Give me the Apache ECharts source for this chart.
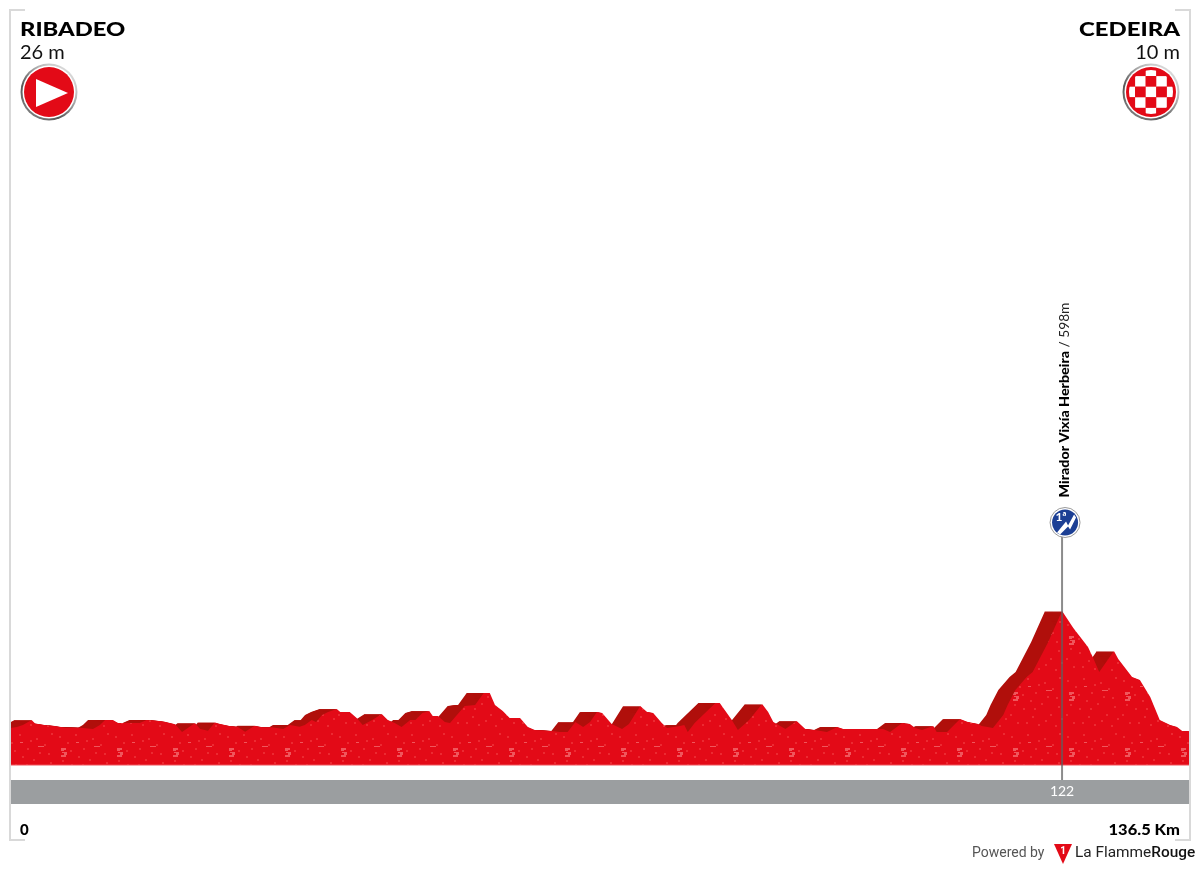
<!DOCTYPE html>
<html><head><meta charset="utf-8">
<style>html,body{margin:0;padding:0;background:#fff}#c{width:1200px;height:870px}</style>
<script src="https://cdn.jsdelivr.net/npm/echarts@6/dist/echarts.min.js"></script>
</head><body><div id="c"></div>
<script>
const profileKm = [0,0.8,1.5,2.5,2.9,4.0,5.2,6.4,8.1,9.6,10.4,11.0,11.9,12.5,13.5,15.0,15.8,17.0,17.9,19.1,19.9,21.4,22.0,22.9,23.7,24.3,25.4,26.3,27.2,28.3,29.2,30.3,31.6,32.4,33.5,34.1,34.9,35.4,36.1,36.8,37.8,38.2,39.3,40.1,40.8,41.9,43.0,43.7,44.5,45.3,46.3,46.9,47.7,48.5,48.9,49.5,50.3,50.9,51.5,51.9,52.6,53.8,54.3,54.8,55.5,56.1,57.0,57.8,59.0,59.9,60.7,62.7,63.6,64.5,65.4,66.3,67.1,67.9,68.5,69.6,70.8,71.6,72.9,73.7,74.4,75.4,76.0,77.5,78.0,78.4,79.2,81.6,82.1,83.5,84.2,85.5,87.0,87.7,88.3,89.1,89.7,91.0,92.0,93.1,94.5,95.7,96.4,97.5,99.8,101.0,101.8,103.2,104.1,104.7,105.5,106.8,107.2,108.4,109.9,110.8,112.0,112.4,113.1,113.7,114.9,115.4,116.3,117.6,118.3,120.1,121.7,121.9,123.0,124.7,125.3,126.0,127.7,128.2,129.8,130.7,131.9,133.0,134.2,135.0,135.6,136.5];
const profileElev = [26,31,41,65,48,41,36,27,27,21,41,65,65,50,50,50,65,62,57,44,6,50,21,13,53,46,36,32,8,37,29,29,21,41,32,41,65,55,90,104,119,104,104,75,41,65,94,65,50,31,65,65,99,109,85,85,55,50,80,99,134,138,168,197,197,138,109,75,75,31,16,11,6,6,55,31,55,104,99,46,21,46,134,104,99,50,26,36,41,6,50,148,148,65,16,65,143,104,55,36,21,60,21,16,6,31,21,21,21,21,6,50,46,26,16,36,6,6,70,55,46,36,31,26,90,138,212,275,300,447,598,593,515,422,368,300,403,363,275,261,178,65,41,31,11,10];
const shadeKm = 1.97;
const shadeLayers = 17;
const climbKm = [121.7];
const climbLabel = ['122'];
const climbName = ['Mirador Vixía Herbeira'];
const climbHeight = ['598m'];
const startName = 'RIBADEO', startElev = '26 m';
const finishName = 'CEDEIRA', finishElev = '10 m';
const totalLabels = ['0', '136.5 Km'];

const FONT = 'Lato';
const RED = '#e30a17';

// speckled fill texture
function texture() {
  const s = document.createElement('canvas');
  s.width = 56; s.height = 56;
  const g = s.getContext('2d');
  g.fillStyle = RED; g.fillRect(0, 0, 56, 56);
  g.fillStyle = '#ec2a32';
  const dots = [[3,8],[11,14],[19,6],[27,20],[36,10],[44,16],[51,5],[6,32],[15,36],[24,44],[33,31],[42,42],[50,34],[9,50],[30,52],[47,53],[22,28],[39,24],[14,22],[30,12],[48,25],[2,42],[18,50],[37,48],[26,36],[53,46]];
  dots.forEach(d => g.fillRect(d[0], d[1], 2, 2));
  g.fillStyle = '#f0565c';
  [[5,20,5,2],[5,22,3,1],[6,24,5,1],[8,25,3,2],[5,27,5,2],[38,18,6,1],[20,14,3,1]].forEach(r => g.fillRect(r[0], r[1], r[2], r[3]));
  return s;
}

function ringed(g) {
  const ring = g.createLinearGradient(52, 5, 8, 55);
  ring.addColorStop(0, '#e4e4e4'); ring.addColorStop(0.3, '#b8b8b8'); ring.addColorStop(0.7, '#555'); ring.addColorStop(1, '#888');
  g.fillStyle = ring; g.beginPath(); g.arc(30, 30, 28.5, 0, 7); g.fill();
  g.fillStyle = '#fff'; g.beginPath(); g.arc(30, 30, 26.5, 0, 7); g.fill();
  g.fillStyle = RED; g.beginPath(); g.arc(30, 30, 25, 0, 7); g.fill();
}
function startIcon() {
  const c = document.createElement('canvas');
  c.width = 60; c.height = 60;
  const g = c.getContext('2d');
  ringed(g);
  g.fillStyle = '#fff'; g.beginPath(); g.moveTo(17, 17); g.lineTo(49, 31); g.lineTo(17, 45); g.closePath(); g.fill();
  return c;
}
function finishIcon() {
  const c = document.createElement('canvas');
  c.width = 60; c.height = 60;
  const g = c.getContext('2d');
  ringed(g);
  g.save(); g.beginPath(); g.arc(30, 30, 22, 0, 7); g.clip();
  const cell = 10.6;
  for (let i = -3; i < 4; i++) for (let j = -3; j < 4; j++) {
    g.fillStyle = ((i + j) & 1) ? RED : '#fff';
    g.fillRect(30 - cell / 2 + i * cell, 30 - cell / 2 + j * cell, cell, cell);
  }
  g.restore();
  return c;
}

const front = profileKm.map((k, i) => [k, profileElev[i]]);

function renderClimb(params, api) {
  const x = api.coord([api.value(0), 0])[0];
  const i = params.dataIndex;
  const cx = x + 3, cy = 522.5;
  return {
    type: 'group',
    children: [
      { type: 'line', silent: true, shape: { x1: x, y1: 536, x2: x, y2: 780 }, style: { stroke: 'rgba(95,95,95,0.72)', lineWidth: 2 } },
      { type: 'circle', shape: { cx, cy, r: 15 }, style: { fill: '#fff', stroke: '#9a9a9a', lineWidth: 1 } },
      { type: 'circle', shape: { cx, cy, r: 13 }, style: { fill: '#1c3f94' } },
      { type: 'polygon', shape: { points: [[cx - 8, cy + 10], [cx + 1, cy - 1], [cx + 3, cy + 3], [cx + 9, cy - 8], [cx + 11, cy - 5], [cx + 5, cy + 7], [cx + 3, cy + 4], [cx - 5, cy + 12]] }, style: { fill: '#fff' } },
      { type: 'text', x: cx - 4, y: cy - 5, style: { text: '1ª', fill: '#fff', font: 'bold 12px ' + FONT, align: 'center', verticalAlign: 'middle' } },
      { type: 'text', x: x + 3, y: 497.5, rotation: Math.PI / 2, scaleX: 1.056,
        style: { text: '{b|' + climbName[i] + '}{n| / ' + climbHeight[i] + '}', align: 'left', verticalAlign: 'middle',
          rich: { b: { font: '900 13.5px ' + FONT, fill: '#000' }, n: { font: '13px ' + FONT, fill: '#222' } } } },
      { type: 'text', x: x, y: 791.5, style: { text: climbLabel[i], fill: '#fff', font: '14px ' + FONT, align: 'center', verticalAlign: 'middle' } }
    ]
  };
}

const shadeSeries = Array.from({ length: shadeLayers }, (_, n) => {
  const shift = shadeKm * (n + 1) / shadeLayers;
  return {
    type: 'line', name: 'shade' + n, data: profileKm.map((k, i) => [k - shift, profileElev[i]]),
    symbol: 'none', z: 2, silent: true, lineStyle: { width: 0 },
    areaStyle: { color: '#b00f0b', opacity: 1, origin: 'start' }
  };
});

const chart = echarts.init(document.getElementById('c'), null, { renderer: 'canvas', width: 1200, height: 870 });
chart.setOption({
  animation: false,
  backgroundColor: '#fff',
  grid: { left: 10, width: 1180, top: 0, height: 765 },
  xAxis: { type: 'value', min: 0, max: 136.5, show: false },
  yAxis: { type: 'value', min: -155, max: 3586, show: false },
  series: shadeSeries.concat([
    { type: 'line', name: 'profile', data: front, symbol: 'none', z: 3, silent: true, lineStyle: { width: 0 }, areaStyle: { color: { image: texture(), repeat: 'repeat' }, opacity: 1, origin: 'start' } },
    { type: 'custom', name: 'climb', data: climbKm.map(k => [k]), renderItem: renderClimb, z: 6, clip: false, silent: true, encode: { x: 0 } }
  ]),
  graphic: [
    { type: 'rect', z: 1, silent: true, shape: { x: 10, y: 780, width: 1180, height: 24 }, style: { fill: '#9b9ea0' } },
    { type: 'rect', z: 5, silent: true, shape: { x: 10, y: 764.5, width: 1180, height: 1 }, style: { fill: '#f0505a' } },
    { type: 'polyline', z: 7, silent: true, shape: { points: [[25, 10], [10, 10], [10, 840], [25, 840]] }, style: { stroke: '#d9d9d9', lineWidth: 2, fill: null } },
    { type: 'polyline', z: 7, silent: true, shape: { points: [[1175, 10], [1190, 10], [1190, 840], [1175, 840]] }, style: { stroke: '#d9d9d9', lineWidth: 2, fill: null } },
    { type: 'text', z: 8, x: 20, y: 30, scaleX: 1.25, style: { text: startName, font: '900 19px ' + FONT, fill: '#000', align: 'left', verticalAlign: 'middle' } },
    { type: 'text', z: 8, x: 20, y: 53, style: { text: startElev, font: '20px ' + FONT, fill: '#111', align: 'left', verticalAlign: 'middle' } },
    { type: 'text', z: 8, x: 1180, y: 30, scaleX: 1.26, style: { text: finishName, font: '900 19px ' + FONT, fill: '#000', align: 'right', verticalAlign: 'middle' } },
    { type: 'text', z: 8, x: 1180, y: 53, style: { text: finishElev, font: '20px ' + FONT, fill: '#111', align: 'right', verticalAlign: 'middle' } },
    { type: 'image', z: 8, style: { image: startIcon(), x: 19, y: 62, width: 60, height: 60 } },
    { type: 'image', z: 8, style: { image: finishIcon(), x: 1121, y: 62, width: 60, height: 60 } },
    { type: 'text', z: 8, x: 20, y: 830.5, style: { text: totalLabels[0], font: '900 15px ' + FONT, fill: '#000', align: 'left', verticalAlign: 'middle' } },
    { type: 'text', z: 8, x: 1180, y: 830.5, scaleX: 1.1, style: { text: totalLabels[1], font: '900 15px ' + FONT, fill: '#000', align: 'right', verticalAlign: 'middle' } },
    { type: 'text', z: 8, x: 972, y: 853.5, style: { text: 'Powered by', font: '14px Roboto', fill: '#555', align: 'left', verticalAlign: 'middle' } },
    { type: 'polygon', z: 8, shape: { points: [[1054, 844], [1072, 844], [1063, 864]] }, style: { fill: RED } },
    { type: 'text', z: 9, x: 1063, y: 851, style: { text: '1', font: 'bold 10px Roboto', fill: '#fff', align: 'center', verticalAlign: 'middle' } },
    { type: 'text', z: 8, x: 1075, y: 853.5, style: { text: '{a|La Flamme}{b|Rouge}', align: 'left', verticalAlign: 'middle', rich: { a: { font: '15.4px Roboto', fill: '#222' }, b: { font: '500 15.4px Roboto', fill: '#111' } } } }
  ]
});
</script></body></html>
